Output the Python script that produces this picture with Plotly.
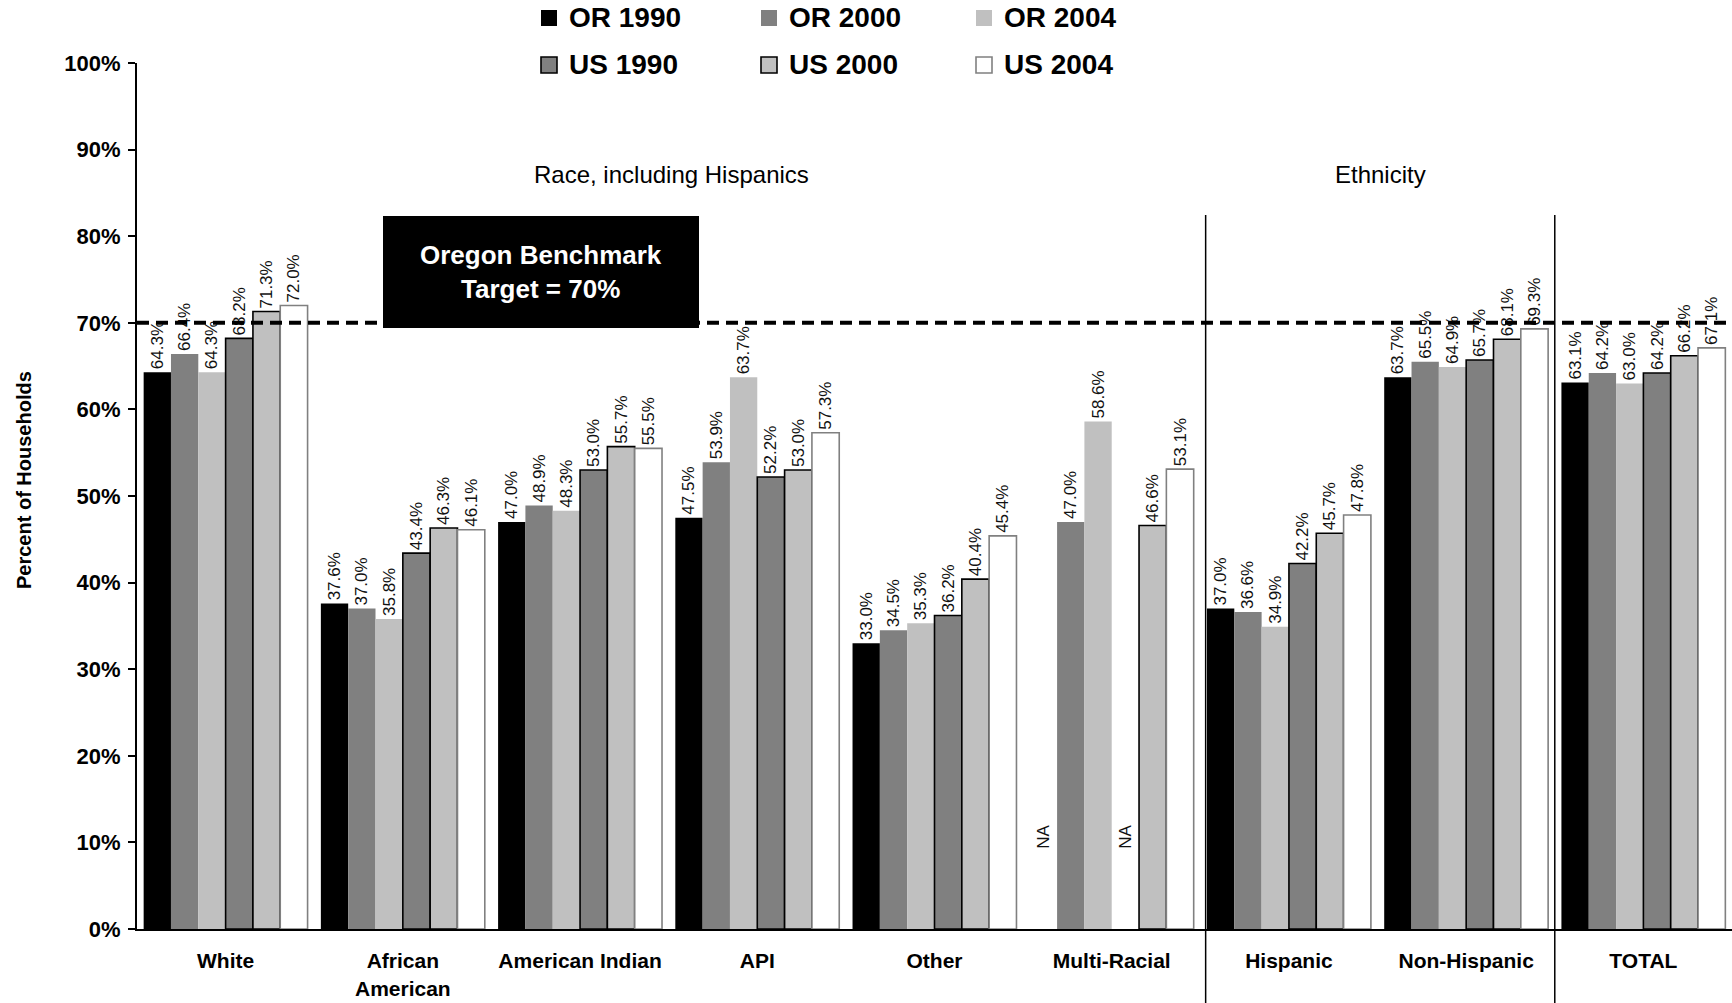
import plotly.graph_objects as go

# ---- data -------------------------------------------------------------
categories = ["White", "African<br>American", "American Indian", "API", "Other",
              "Multi-Racial", "Hispanic", "Non-Hispanic", "TOTAL"]
series_names = ["OR 1990", "OR 2000", "OR 2004", "US 1990", "US 2000", "US 2004"]

or_1990 = [64.3, 37.6, 47.0, 47.5, 33.0, None, 37.0, 63.7, 63.1]
or_2000 = [66.4, 37.0, 48.9, 53.9, 34.5, 47.0, 36.6, 65.5, 64.2]
or_2004 = [64.3, 35.8, 48.3, 63.7, 35.3, 58.6, 34.9, 64.9, 63.0]
us_1990 = [68.2, 43.4, 53.0, 52.2, 36.2, None, 42.2, 65.7, 64.2]
us_2000 = [71.3, 46.3, 55.7, 53.0, 40.4, 46.6, 45.7, 68.1, 66.2]
us_2004 = [72.0, 46.1, 55.5, 57.3, 45.4, 53.1, 47.8, 69.3, 67.1]

benchmark_target = 70
y_ticks = [0, 10, 20, 30, 40, 50, 60, 70, 80, 90, 100]

# ---- styles -----------------------------------------------------------
FONT = "Liberation Sans, Arial, sans-serif"
W, H = 1732, 1003
ML, MR, MT, MB = 137, 0, 63, 74
PW, PH = W - ML - MR, H - MT - MB
BARGAP = 0.075

fills = ["#000000", "#808080", "#c0c0c0", "#808080", "#c0c0c0", "#ffffff"]
edges = ["#000000", "#808080", "#c0c0c0", "#000000", "#000000", "#808080"]
edge_w = [0, 0, 0, 1.6, 1.6, 1.6]
values = [or_1990, or_2000, or_2004, us_1990, us_2000, us_2004]


def px_x(p):
    return (p - ML) / PW


def px_y(p):
    return (H - MB - p) / PH


fig = go.Figure()
for name, vals, fc, ec, lw in zip(series_names, values, fills, edges, edge_w):
    fig.add_trace(go.Bar(
        name=name, x=categories, y=vals,
        marker=dict(color=fc, line=dict(color=ec, width=lw)),
        text=[None if v is None else f"{v:.1f}%" for v in vals],
        textposition="outside", textangle=-90,
        textfont=dict(family=FONT, size=17, color="#111111"),
        constraintext="none", cliponaxis=False,
        showlegend=False,
    ))

n_series = len(series_names)
bar_w = (1 - BARGAP) / n_series

annotations = []
# "NA" markers for the missing series values
for s_idx, vals in enumerate(values):
    for c_idx, v in enumerate(vals):
        if v is None:
            annotations.append(dict(
                x=c_idx + (s_idx - (n_series - 1) / 2) * bar_w, y=10.7,
                xref="x", yref="y", text="NA", showarrow=False, textangle=-90,
                xanchor="center", yanchor="middle",
                font=dict(family=FONT, size=17, color="#111111")))

shapes = []
# benchmark dashed line
shapes.append(dict(type="line", xref="paper", yref="y", x0=0, x1=1,
                   y0=benchmark_target, y1=benchmark_target,
                   line=dict(color="black", width=4, dash="12px,7px"), layer="above"))
# benchmark box
shapes.append(dict(type="rect", xref="paper", yref="paper",
                   x0=px_x(383), x1=px_x(699), y0=px_y(328), y1=px_y(216),
                   fillcolor="black", line=dict(width=0), layer="above"))
annotations.append(dict(xref="paper", yref="paper", x=px_x(541), y=px_y(272),
                        xanchor="center", yanchor="middle",
                        text="<b>Oregon Benchmark<br>Target = 70%</b>", showarrow=False,
                        font=dict(family=FONT, size=26, color="white"),
                        align="center"))

# group separators
for xs in [5.53, 7.5]:
    shapes.append(dict(type="line", xref="x", yref="paper", x0=xs, x1=xs,
                       y0=px_y(1003), y1=px_y(215),
                       line=dict(color="black", width=1.5), layer="above"))

# section headings
annotations.append(dict(xref="paper", yref="paper", x=px_x(671), y=px_y(175),
                        xanchor="center", yanchor="middle",
                        text="Race, including Hispanics", showarrow=False,
                        font=dict(family=FONT, size=24, color="black")))
annotations.append(dict(xref="paper", yref="paper", x=px_x(1380), y=px_y(175),
                        xanchor="center", yanchor="middle",
                        text="Ethnicity", showarrow=False,
                        font=dict(family=FONT, size=24, color="black")))

# y-axis title
annotations.append(dict(xref="paper", yref="paper", x=px_x(24), y=px_y(480),
                        xanchor="center", yanchor="middle",
                        text="<b>Percent of Households</b>", showarrow=False,
                        textangle=-90,
                        font=dict(family=FONT, size=20, color="black")))

# legend (two rows of three)
legend_cols = [549, 769, 984]
legend_rows = [18, 65]
for i, name in enumerate(series_names):
    cx = legend_cols[i % 3]
    cy = legend_rows[i // 3]
    half = 8
    shapes.append(dict(type="rect", xref="paper", yref="paper",
                       x0=px_x(cx - half), x1=px_x(cx + half),
                       y0=px_y(cy + half), y1=px_y(cy - half),
                       fillcolor=fills[i],
                       line=dict(color=edges[i], width=edge_w[i] if edge_w[i] else 0)))
    annotations.append(dict(xref="paper", yref="paper", x=px_x(cx + 18), y=px_y(cy),
                            xanchor="left", yanchor="middle",
                            text=f"<b>{name}</b>", showarrow=False,
                            font=dict(family=FONT, size=28, color="black")))

fig.update_layout(
    width=W, height=H,
    margin=dict(l=ML, r=MR, t=MT, b=MB, pad=0),
    paper_bgcolor="white", plot_bgcolor="white",
    barmode="group", bargap=BARGAP, bargroupgap=0,
    shapes=shapes, annotations=annotations,
    showlegend=False,
    font=dict(family=FONT),
)
fig.update_xaxes(
    type="category", range=[-0.5, len(categories) - 0.5],
    showline=True, linecolor="black", linewidth=2,
    ticks="", showgrid=False, zeroline=False,
    tickfont=dict(family=FONT, size=21, color="black"),
    ticklabelstandoff=12,
    tickvals=categories,
    ticktext=[f"<b>{c}</b>" for c in categories],
)
fig.update_yaxes(
    range=[0, 100], tickvals=y_ticks,
    ticktext=[f"<b>{t}%</b>" for t in y_ticks],
    showline=True, linecolor="black", linewidth=2,
    ticks="outside", ticklen=7, tickwidth=2, tickcolor="black",
    showgrid=False, zeroline=False,
    tickfont=dict(family=FONT, size=22, color="black"),
    ticklabelstandoff=3,
)

fig.write_html("out.html")
